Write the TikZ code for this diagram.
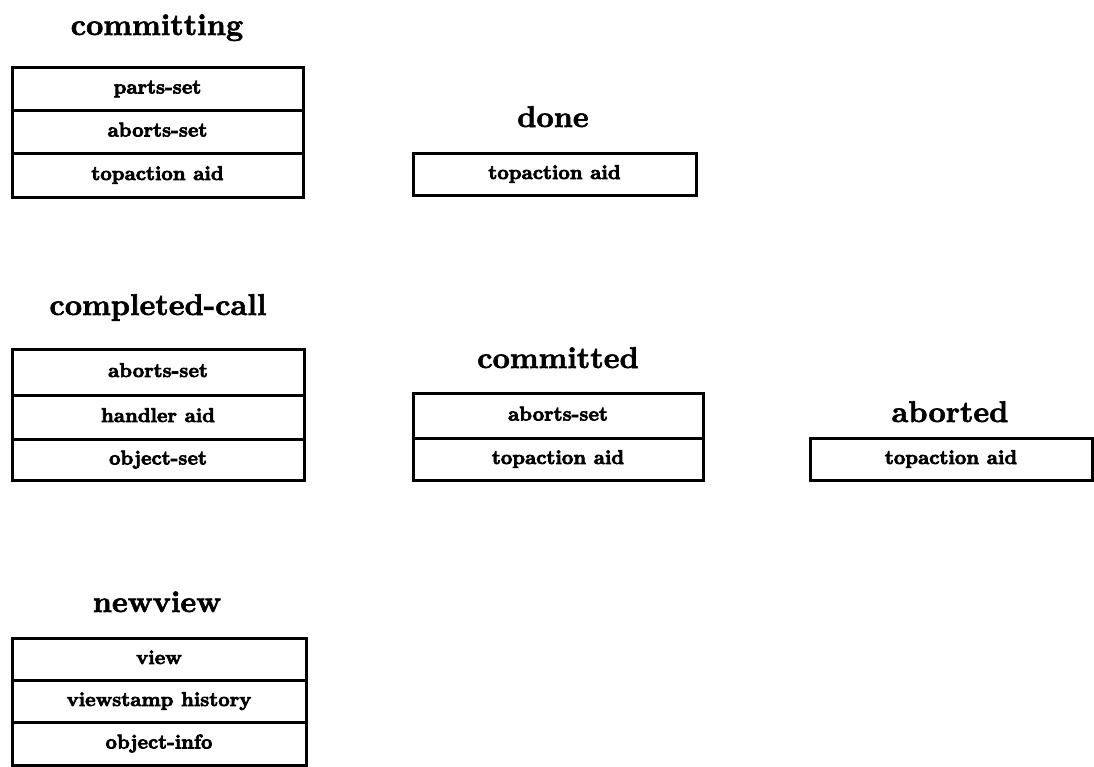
\documentclass[tikz,border=0pt]{standalone}
\usepackage{fontspec}
\newfontfamily\heavyfont{lmroman10-bold.otf}[FakeBold=3.5]
\newfontfamily\titlefont{lmroman10-bold.otf}[FakeBold=2]
\begin{document}
\begin{tikzpicture}[x=1pt,y=-1pt,
  rowbox/.style={draw, line width=3pt, inner sep=0pt, outer sep=0pt,
    font=\heavyfont\fontsize{20}{22}\selectfont, text height=14pt, text depth=4pt},
  title/.style={anchor=base, inner sep=0pt, font=\titlefont\fontsize{30}{34}\selectfont}]
\useasboundingbox (0,0) rectangle (1094,766);
% committing
\node[title] (t1) at (157,35) {committing};
\node[rowbox, minimum width=291pt, minimum height=43pt] (c1) at (157.5,88.5) {parts-set};
\node[rowbox, minimum width=291pt, minimum height=43pt] (c2) at (157.5,131.5) {aborts-set};
\node[rowbox, minimum width=291pt, minimum height=44pt] (c3) at (157.5,175) {topaction aid};
% done
\node[title] (t2) at (553,127) {done};
\node[rowbox, minimum width=283pt, minimum height=42pt] (d1) at (554.5,174) {topaction aid};
% completed-call
\node[title] (t3) at (158,315) {completed-call};
\node[rowbox, minimum width=292pt, minimum height=46pt] (k1) at (158,372) {aborts-set};
\node[rowbox, minimum width=292pt, minimum height=44pt] (k2) at (158,417) {handler aid};
\node[rowbox, minimum width=292pt, minimum height=41pt] (k3) at (158,459.5) {object-set};
% committed
\node[title] (t4) at (558,368) {committed};
\node[rowbox, minimum width=290pt, minimum height=45pt] (m1) at (558,415.5) {aborts-set};
\node[rowbox, minimum width=290pt, minimum height=42pt] (m2) at (558,459) {topaction aid};
% aborted
\node[title] (t5) at (950,422) {aborted};
\node[rowbox, minimum width=282pt, minimum height=42pt] (a1) at (951,459) {topaction aid};
% newview
\node[title] (t6) at (157,612) {newview};
\node[rowbox, minimum width=294pt, minimum height=42pt] (n1) at (159,659) {view};
\node[rowbox, minimum width=294pt, minimum height=42pt] (n2) at (159,701) {viewstamp history};
\node[rowbox, minimum width=294pt, minimum height=43pt] (n3) at (159,743.5) {object-info};
\end{tikzpicture}
\end{document}
